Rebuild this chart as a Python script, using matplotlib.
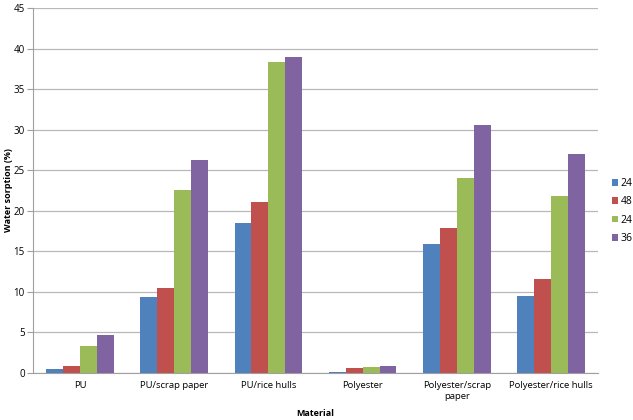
import matplotlib
matplotlib.use("Agg")
import matplotlib.pyplot as plt
import numpy as np

categories = ["PU", "PU/scrap paper", "PU/rice hulls", "Polyester",
              "Polyester/scrap\npaper", "Polyester/rice hulls"]
series_labels = ["24", "48", "24", "36"]
s1 = [0.5, 9.4, 18.5, 0.15, 15.9, 9.5]
s2 = [0.9, 10.5, 21.1, 0.6, 17.9, 11.6]
s3 = [3.3, 22.6, 38.4, 0.7, 24.1, 21.8]
s4 = [4.7, 26.3, 38.9, 0.85, 30.6, 27.0]
colors = ["#4F81BD", "#C0504D", "#9BBB59", "#8064A2"]
yticks = [0, 5, 10, 15, 20, 25, 30, 35, 40, 45]

plt.rcParams['font.family'] = ['Open Sans', 'DejaVu Sans']

fig = plt.figure(figsize=(6.33, 4.2), dpi=100)
ax = fig.add_axes([33/633, 47/420, 565/633, 365/420])

x = np.arange(len(categories))
w = 0.18
data = [s1, s2, s3, s4]
for i, (vals, c, lab) in enumerate(zip(data, colors, series_labels)):
    ax.bar(x + (i - 1.5) * w, vals, width=w, color=c, label=lab, zorder=3)

ax.set_xlim(-0.5, 5.5)
ax.set_ylim(0, 45)
ax.set_yticks(yticks)
ax.grid(axis='y', color='#B8B8B8', linewidth=0.9, zorder=0)
ax.set_xticks(x)
ax.set_xticklabels(categories, fontsize=6.8)
ax.tick_params(axis='x', length=0, pad=6)
ax.tick_params(axis='y', length=4, color='#A0A0A0', labelsize=7, pad=2, direction='out')
for side in ['top', 'right']:
    ax.spines[side].set_visible(False)
ax.spines['left'].set_color('#A0A0A0')
ax.spines['bottom'].set_color('#A0A0A0')

ax.set_ylabel("Water sorption (%)", fontsize=6.5, fontweight='bold')
ax.yaxis.set_label_coords(-20/565, 0.5)
ax.set_xlabel("Material", fontsize=6.5, fontweight='bold', labelpad=6)

leg = fig.legend(loc='upper left', bbox_to_anchor=(612/633, 1 - 178/420),
                 frameon=False, fontsize=7.5, handlelength=0.6, handleheight=0.6,
                 handletextpad=0.2, labelspacing=0.7, borderaxespad=0, borderpad=0)

fig.savefig("out.png", dpi=100)
